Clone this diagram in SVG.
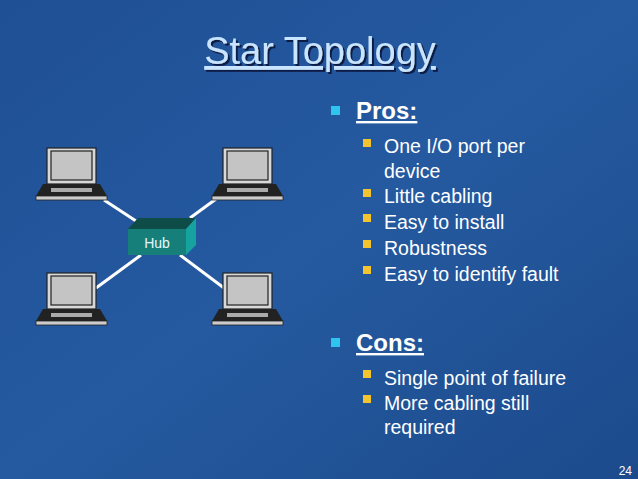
<svg xmlns="http://www.w3.org/2000/svg" width="638" height="479" viewBox="0 0 638 479">
<defs>
<linearGradient id="bg" x1="0" y1="0" x2="1" y2="1"><stop offset="0" stop-color="#1f4f95"/><stop offset="0.5" stop-color="#255aa0"/><stop offset="1" stop-color="#1c4a8c"/></linearGradient>
<filter id="sh" x="-10%" y="-20%" width="120%" height="150%"><feDropShadow dx="2" dy="2" stdDeviation="0.5" flood-color="#0b1f45"/></filter>
<g id="laptop">
<rect x="0" y="0" width="49" height="36" fill="#d8d8d8" stroke="#222" stroke-width="1.2"/>
<rect x="4" y="3" width="41" height="29" fill="#c4c4c4" stroke="#222" stroke-width="1.2"/>
<path d="M-4,36 L53,36 L60,48 L-11,48 Z" fill="#222"/>
<rect x="4" y="40" width="41" height="4" fill="#aaa"/>
<rect x="-11" y="48" width="71" height="4" fill="#ccc" stroke="#222" stroke-width="0.8"/>
</g>
</defs>
<style>
.t{font-family:"Liberation Sans",Arial,sans-serif;fill:#fff}
.s{font-size:19.5px}
.h{font-size:24px;font-weight:bold;text-decoration:underline}
</style>
<rect width="638" height="479" fill="url(#bg)"/>
<text x="320" y="64" text-anchor="middle" font-family="Liberation Sans,Arial,sans-serif" font-size="38" fill="#c8e4ff" text-decoration="underline" filter="url(#sh)">Star Topology</text>
<g id="connectors" stroke="#fff" stroke-width="3">
<line x1="104" y1="200" x2="136" y2="221"/>
<line x1="216" y1="199" x2="190" y2="218"/>
<line x1="96" y1="288" x2="141" y2="255"/>
<line x1="224" y1="288" x2="180" y2="255"/>
</g>
<g id="laptop-tl"><use href="#laptop" x="47" y="148"/></g>
<g id="laptop-tr"><use href="#laptop" x="223" y="148"/></g>
<g id="laptop-bl"><use href="#laptop" x="47" y="273"/></g>
<g id="laptop-br"><use href="#laptop" x="223" y="273"/></g>
<g id="hub">
<path d="M128,229 L138,218 L196,218 L186,229 Z" fill="#0e4c48"/>
<path d="M186,229 L196,218 L196,245 L186,255 Z" fill="#16a3a0"/>
<rect x="128" y="229" width="58" height="26" fill="#177f7a"/>
<text x="157" y="248" text-anchor="middle" font-family="Liberation Sans,Arial,sans-serif" font-size="14" fill="#e6f7ff">Hub</text>
</g>
<g fill="#2fc4f0"><rect x="331" y="106" width="9" height="9"/><rect x="331" y="338" width="9" height="9"/></g>
<g fill="#f4c430">
<rect x="363" y="139" width="8" height="8"/><rect x="363" y="189" width="8" height="8"/><rect x="363" y="214" width="8" height="8"/><rect x="363" y="240" width="8" height="8"/><rect x="363" y="266" width="8" height="8"/>
<rect x="363" y="370" width="8" height="8"/><rect x="363" y="395" width="8" height="8"/>
</g>
<text class="t h" x="356" y="119">Pros:</text>
<text class="t s" x="384" y="153">One I/O port per</text>
<text class="t s" x="384" y="178">device</text>
<text class="t s" x="384" y="203">Little cabling</text>
<text class="t s" x="384" y="229">Easy to install</text>
<text class="t s" x="384" y="255">Robustness</text>
<text class="t s" x="384" y="281">Easy to identify fault</text>
<text class="t h" x="356" y="351">Cons:</text>
<text class="t s" x="384" y="385">Single point of failure</text>
<text class="t s" x="384" y="410">More cabling still</text>
<text class="t s" x="384" y="434">required</text>
<text class="t" x="632" y="475" text-anchor="end" font-size="12">24</text>
</svg>
